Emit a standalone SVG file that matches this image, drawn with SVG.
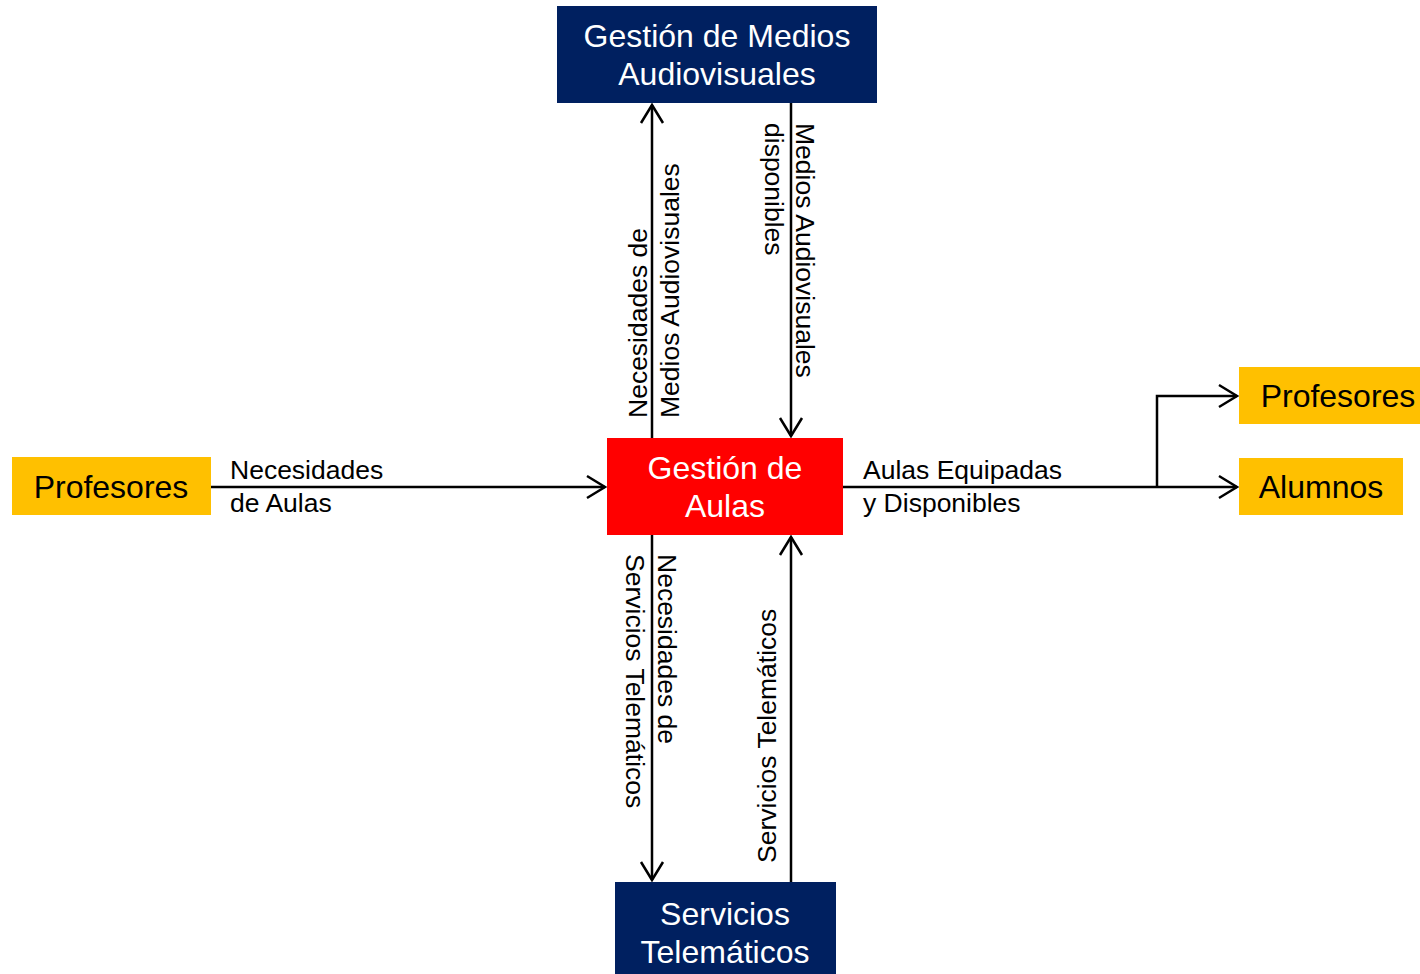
<svg xmlns="http://www.w3.org/2000/svg" width="1420" height="974" viewBox="0 0 1420 974">
<style>
.navy{fill:#002060}
.red{fill:#FF0000}
.yel{fill:#FFC000}
.bt{font-family:"Liberation Sans",Arial,sans-serif;font-size:32px;fill:#fff;text-anchor:middle}
.yt{font-family:"Liberation Sans",Arial,sans-serif;font-size:32px;fill:#000;text-anchor:middle}
.lb{font-family:"Liberation Sans",Arial,sans-serif;font-size:26.5px;fill:#000}
.ln{stroke:#000;stroke-width:2.5;fill:none}
</style>
<defs>
<marker id="arr" markerUnits="userSpaceOnUse" markerWidth="30" markerHeight="30" refX="0" refY="0" viewBox="-22 -15 30 30" orient="auto" overflow="visible">
<path d="M-18,-11 L0,0 L-18,11" fill="none" stroke="#000" stroke-width="2.5"/>
</marker>
</defs>
<rect width="1420" height="974" fill="#fff"/>
<g id="connectors">
<line class="ln" x1="211" y1="487" x2="605" y2="487" marker-end="url(#arr)"/>
<polyline class="ln" points="843,487 1237,487" marker-end="url(#arr)"/>
<polyline class="ln" points="1157,487 1157,396 1237,396" marker-end="url(#arr)"/>
<line class="ln" x1="652" y1="438" x2="652" y2="105" marker-end="url(#arr)"/>
<line class="ln" x1="791" y1="103" x2="791" y2="436" marker-end="url(#arr)"/>
<line class="ln" x1="652" y1="535" x2="652" y2="880" marker-end="url(#arr)"/>
<line class="ln" x1="791" y1="882" x2="791" y2="537" marker-end="url(#arr)"/>
<text class="lb" x="230" y="479">Necesidades</text>
<text class="lb" x="230" y="512">de Aulas</text>
<text class="lb" x="863" y="479">Aulas Equipadas</text>
<text class="lb" x="863" y="512">y Disponibles</text>
<text class="lb" transform="translate(647,418) rotate(-90)"><tspan x="0" y="0">Necesidades de</tspan><tspan x="0" y="32">Medios Audiovisuales</tspan></text>
<text class="lb" transform="translate(796,123) rotate(90)"><tspan x="0" y="0">Medios Audiovisuales</tspan><tspan x="0" y="31">disponibles</tspan></text>
<text class="lb" transform="translate(658,554) rotate(90)"><tspan x="0" y="0">Necesidades de</tspan><tspan x="0" y="32">Servicios Telemáticos</tspan></text>
<text class="lb" transform="translate(776,863) rotate(-90)">Servicios Telemáticos</text>
</g>
<g id="gestion-medios">
<rect class="navy" x="557" y="6" width="320" height="97"/>
<text class="bt" x="717" y="47">Gestión de Medios</text>
<text class="bt" x="717" y="85">Audiovisuales</text>
</g>
<g id="gestion-aulas">
<rect class="red" x="607" y="438" width="236" height="97"/>
<text class="bt" x="725" y="479">Gestión de</text>
<text class="bt" x="725" y="517">Aulas</text>
</g>
<g id="servicios-telematicos">
<rect class="navy" x="615" y="882" width="221" height="92"/>
<text class="bt" x="725" y="925">Servicios</text>
<text class="bt" x="725" y="963">Telemáticos</text>
</g>
<g id="profesores-in">
<rect class="yel" x="12" y="457" width="199" height="58"/>
<text class="yt" x="111" y="498">Profesores</text>
</g>
<g id="profesores-out">
<rect class="yel" x="1239" y="367" width="199" height="57"/>
<text class="yt" x="1338" y="407">Profesores</text>
</g>
<g id="alumnos">
<rect class="yel" x="1239" y="458" width="164" height="57"/>
<text class="yt" x="1321" y="498">Alumnos</text>
</g>
</svg>
